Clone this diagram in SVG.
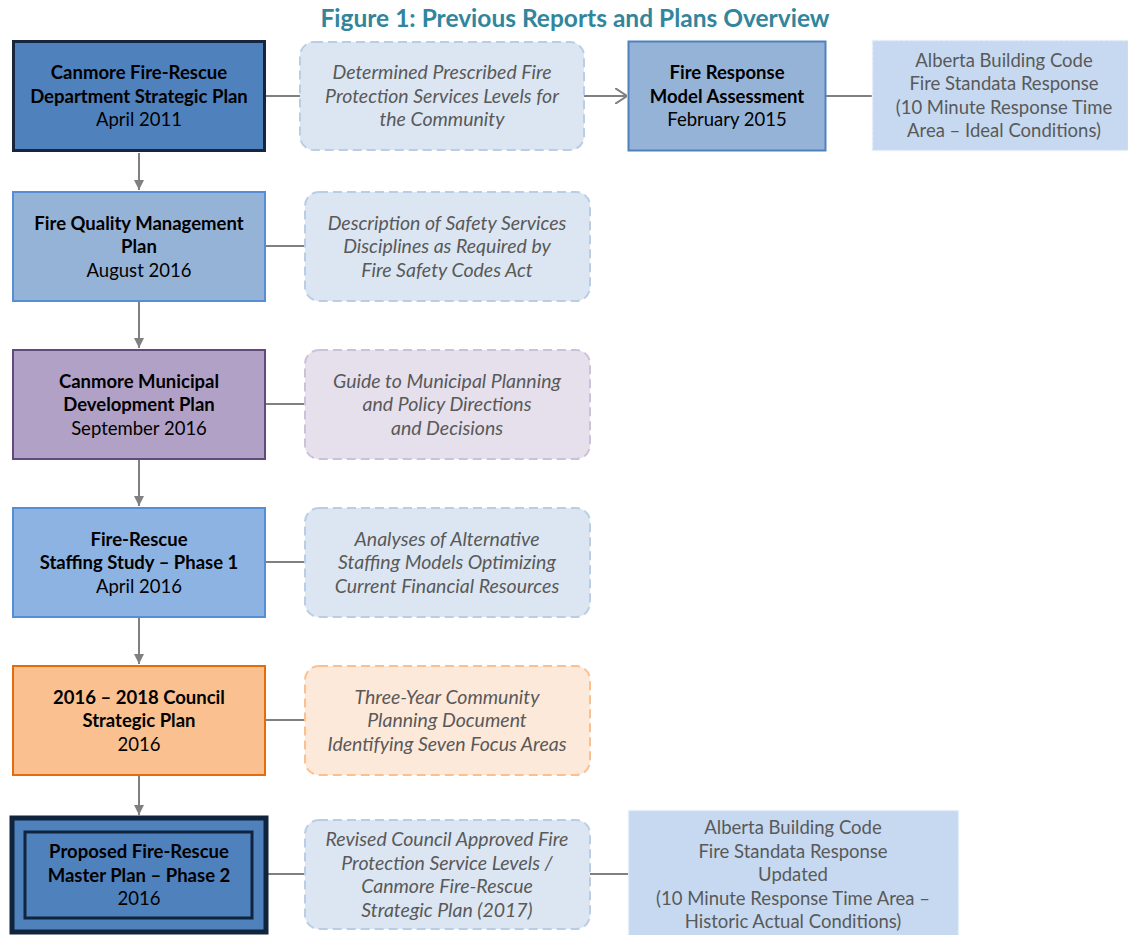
<svg xmlns="http://www.w3.org/2000/svg" width="1128" height="935" viewBox="0 0 1128 935">
<style>
text{font-family:Lato,"Open Sans","Liberation Sans",sans-serif;font-size:18.5px;text-anchor:middle;}
.title{font-size:24.5px;font-weight:bold;fill:#31859c;}
.b{font-weight:bold;fill:#000;}
.n{fill:#000;}
.d{font-style:italic;fill:#595959;font-size:19.5px;}
.g{fill:#595959;}
.desc{stroke-width:2;stroke-dasharray:9 5;}
.conn{stroke:#808080;stroke-width:2;fill:none;}
</style>
<defs>
<marker id="fa" viewBox="0 0 10 10" refX="10" refY="5" markerWidth="10" markerHeight="11" orient="auto" markerUnits="userSpaceOnUse">
<path d="M0,0 L10,5 L0,10 z" fill="#808080"/>
</marker>
<marker id="oa" viewBox="0 0 12 16" refX="12" refY="8" markerWidth="12" markerHeight="16" orient="auto" markerUnits="userSpaceOnUse">
<path d="M0,0 L12,8 L0,16" fill="none" stroke="#808080" stroke-width="2"/>
</marker>
</defs>
<rect width="1128" height="935" fill="#fff"/>
<text class="title" x="575" y="27">Figure 1: Previous Reports and Plans Overview</text>

<g id="connectors">
<line class="conn" x1="266" y1="96" x2="300" y2="96"/>
<line class="conn" x1="584" y1="96" x2="627" y2="96" marker-end="url(#oa)"/>
<line class="conn" x1="826" y1="96" x2="872" y2="96"/>
<line class="conn" x1="266" y1="246" x2="305" y2="246"/>
<line class="conn" x1="266" y1="404" x2="305" y2="404"/>
<line class="conn" x1="266" y1="562" x2="305" y2="562"/>
<line class="conn" x1="266" y1="720" x2="305" y2="720"/>
<line class="conn" x1="268" y1="874" x2="305" y2="874"/>
<line class="conn" x1="590" y1="874" x2="628" y2="874"/>
<line class="conn" x1="139" y1="153" x2="139" y2="190" marker-end="url(#fa)"/>
<line class="conn" x1="139" y1="302" x2="139" y2="348" marker-end="url(#fa)"/>
<line class="conn" x1="139" y1="460" x2="139" y2="506" marker-end="url(#fa)"/>
<line class="conn" x1="139" y1="618" x2="139" y2="664" marker-end="url(#fa)"/>
<line class="conn" x1="139" y1="776" x2="139" y2="815" marker-end="url(#fa)"/>
</g>

<g id="n1">
<rect x="13.5" y="41.5" width="251" height="109" fill="#4f81bd" stroke="#17253e" stroke-width="3"/>
<text class="b" x="139" y="79">Canmore Fire-Rescue</text>
<text class="b" x="139" y="103">Department Strategic Plan</text>
<text class="n" x="139" y="126">April 2011</text>
</g>
<g id="d1">
<rect class="desc" x="300" y="42" width="284" height="108" rx="14" fill="#dce6f2" stroke="#b9cde5"/>
<text class="d" x="442" y="79">Determined Prescribed Fire</text>
<text class="d" x="442" y="103">Protection Services Levels for</text>
<text class="d" x="442" y="126">the Community</text>
</g>
<g id="n1b">
<rect x="628.5" y="41.5" width="197" height="109" fill="#95b3d7" stroke="#4f81bd" stroke-width="2"/>
<text class="b" x="727" y="79">Fire Response</text>
<text class="b" x="727" y="103">Model Assessment</text>
<text class="n" x="727" y="126">February 2015</text>
</g>
<g id="a1">
<rect x="872.5" y="40.5" width="256" height="110" fill="#c6d9f1" stroke="#e6eef8" stroke-width="1.5" stroke-dasharray="3 2"/>
<text class="g" x="1004" y="67">Alberta Building Code</text>
<text class="g" x="1004" y="90">Fire Standata Response</text>
<text class="g" x="1004" y="114">(10 Minute Response Time</text>
<text class="g" x="1004" y="137">Area – Ideal Conditions)</text>
</g>

<g id="n2">
<rect x="13" y="192" width="252" height="109" fill="#95b3d7" stroke="#558ed5" stroke-width="2"/>
<text class="b" x="139" y="230">Fire Quality Management</text>
<text class="b" x="139" y="253">Plan</text>
<text class="n" x="139" y="277">August 2016</text>
</g>
<g id="d2">
<rect class="desc" x="305" y="192" width="285" height="109" rx="14" fill="#dce6f2" stroke="#b9cde5"/>
<text class="d" x="447" y="230">Description of Safety Services</text>
<text class="d" x="447" y="253">Disciplines as Required by</text>
<text class="d" x="447" y="277">Fire Safety Codes Act</text>
</g>

<g id="n3">
<rect x="13" y="350" width="252" height="109" fill="#b2a1c7" stroke="#604a7b" stroke-width="2"/>
<text class="b" x="139" y="388">Canmore Municipal</text>
<text class="b" x="139" y="411">Development Plan</text>
<text class="n" x="139" y="435">September 2016</text>
</g>
<g id="d3">
<rect class="desc" x="305" y="350" width="285" height="109" rx="14" fill="#e6e0ec" stroke="#ccc1da"/>
<text class="d" x="447" y="388">Guide to Municipal Planning</text>
<text class="d" x="447" y="411">and Policy Directions</text>
<text class="d" x="447" y="435">and Decisions</text>
</g>

<g id="n4">
<rect x="13" y="508" width="252" height="109" fill="#8db3e2" stroke="#558ed5" stroke-width="2"/>
<text class="b" x="139" y="546">Fire-Rescue</text>
<text class="b" x="139" y="569">Staffing Study – Phase 1</text>
<text class="n" x="139" y="593">April 2016</text>
</g>
<g id="d4">
<rect class="desc" x="305" y="508" width="285" height="109" rx="14" fill="#dce6f2" stroke="#b9cde5"/>
<text class="d" x="447" y="546">Analyses of Alternative</text>
<text class="d" x="447" y="569">Staffing Models Optimizing</text>
<text class="d" x="447" y="593">Current Financial Resources</text>
</g>

<g id="n5">
<rect x="13" y="666" width="252" height="109" fill="#fac090" stroke="#e46c0a" stroke-width="2"/>
<text class="b" x="139" y="704">2016 – 2018 Council</text>
<text class="b" x="139" y="727">Strategic Plan</text>
<text class="n" x="139" y="751">2016</text>
</g>
<g id="d5">
<rect class="desc" x="305" y="666" width="285" height="109" rx="14" fill="#fde9d9" stroke="#fac090"/>
<text class="d" x="447" y="704">Three-Year Community</text>
<text class="d" x="447" y="727">Planning Document</text>
<text class="d" x="447" y="751">Identifying Seven Focus Areas</text>
</g>

<g id="n6">
<rect x="12" y="818" width="254" height="114" fill="#4f81bd" stroke="#10243e" stroke-width="5"/>
<rect x="25" y="832" width="227" height="86" fill="none" stroke="#10243e" stroke-width="3"/>
<text class="b" x="139" y="858">Proposed Fire-Rescue</text>
<text class="b" x="139" y="882">Master Plan – Phase 2</text>
<text class="n" x="139" y="905">2016</text>
</g>
<g id="d6">
<rect class="desc" x="305" y="820" width="285" height="109" rx="14" fill="#dce6f2" stroke="#b9cde5"/>
<text class="d" x="447" y="846">Revised Council Approved Fire</text>
<text class="d" x="447" y="870">Protection Service Levels /</text>
<text class="d" x="447" y="893">Canmore Fire-Rescue</text>
<text class="d" x="447" y="917">Strategic Plan (2017)</text>
</g>
<g id="a2">
<rect x="628.5" y="810.5" width="330" height="126" fill="#c6d9f1" stroke="#e6eef8" stroke-width="1.5" stroke-dasharray="3 2"/>
<text class="g" x="793" y="834">Alberta Building Code</text>
<text class="g" x="793" y="858">Fire Standata Response</text>
<text class="g" x="793" y="881">Updated</text>
<text class="g" x="793" y="905">(10 Minute Response Time Area –</text>
<text class="g" x="793" y="928">Historic Actual Conditions)</text>
</g>
</svg>
